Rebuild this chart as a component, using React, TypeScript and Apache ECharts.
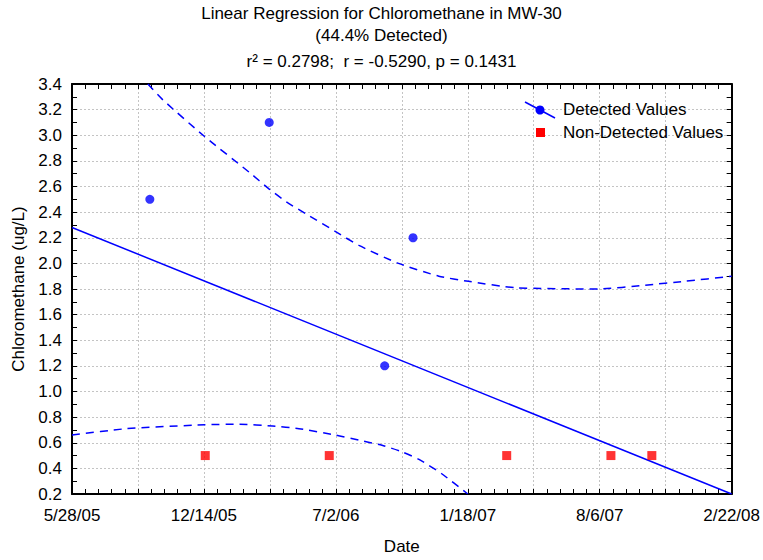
import React, { useEffect, useRef } from "react";
import * as echarts from "echarts";

// ---- data ----
const startDate = "2005-05-28";
const axisMaxDays = 1000;
const tickDays = 100;
const labelEveryDays = 200;

const detectedDates = ["2005-09-23", "2006-03-23", "2006-09-14", "2006-10-27"];
const detectedValues = [2.5, 3.1, 1.2, 2.2];

const nonDetectedDates = ["2005-12-16", "2006-06-22", "2007-03-18", "2007-08-23", "2007-10-24"];
const nonDetectedValues = [0.5, 0.5, 0.5, 0.5, 0.5];

const fitDates = ["2005-05-28", "2008-02-22"];
const fitValues = [2.28, 0.2];

// confidence band, x in days since startDate
const upperDays = [115, 137, 201, 269, 299, 325, 360, 399, 435, 495, 556, 601, 672, 798, 869, 929, 1000];
const upperValues = [3.4, 3.28, 2.99, 2.71, 2.58, 2.48, 2.37, 2.25, 2.14, 2.0, 1.9, 1.86, 1.81, 1.8, 1.83, 1.86, 1.9];
const lowerDays = [0, 83, 201, 254, 304, 344, 400, 435, 470, 500, 526, 560, 600];
const lowerValues = [0.66, 0.71, 0.74, 0.745, 0.73, 0.71, 0.66, 0.62, 0.58, 0.53, 0.47, 0.36, 0.2];

const yMin = 0.2;
const yMax = 3.4;
const yStep = 0.2;

const titleLines = ["Linear Regression for Chloromethane in MW-30", "(44.4% Detected)", "r\u00B2 = 0.2798;  r = -0.5290, p = 0.1431"];
const legendNames = ["Detected Values", "Non-Detected Values"];

// ---- helpers ----
const DAY = 86400000;
const parse = (s: string) => {
  const [y, m, d] = s.split("-").map(Number);
  return Date.UTC(y, m - 1, d);
};
const start = parse(startDate);
const toDays = (s: string) => Math.round((parse(s) - start) / DAY);
const fmtDay = (v: number) => {
  const d = new Date(start + v * DAY);
  return `${d.getUTCMonth() + 1}/${d.getUTCDate()}/${String(d.getUTCFullYear()).slice(2)}`;
};

const FONT = "Liberation Sans, Arial, sans-serif";
const BLUE = "#0000ff";
const RED = "#ff0000";

export default function App() {
  const ref = useRef<HTMLDivElement>(null);
  useEffect(() => {
    if (!ref.current) return;
    const chart = echarts.init(ref.current, undefined, { renderer: "svg" });
    const gridLine = { show: true, lineStyle: { color: "#c4c4c4", type: [2, 2] as any, width: 1 } };
    const axLine = { show: true, onZero: false, lineStyle: { color: "#000", width: 2 } };
    const tick = { show: true, inside: true, length: 5, lineStyle: { color: "#000", width: 1 } };
    const xBase = { type: "value" as const, min: 0, max: axisMaxDays, interval: tickDays };
    const yBase = { type: "value" as const, min: yMin, max: yMax, interval: yStep };

    chart.setOption({
      animation: false,
      textStyle: { fontFamily: FONT },
      grid: { left: 72, right: 30, top: 84, bottom: 61, containLabel: false },
      xAxis: [
        {
          ...xBase,
          position: "bottom",
          axisLine: axLine,
          axisTick: tick,
          minorTick: { show: true, splitNumber: 5, length: 5, lineStyle: { color: "#000" } },
          splitLine: gridLine,
          axisLabel: {
            color: "#000",
            fontSize: 17,
            fontFamily: FONT,
            margin: 13,
            formatter: (v: number) => (Math.round(v) % labelEveryDays === 0 ? fmtDay(v) : ""),
          },
          name: "Date",
          nameLocation: "middle",
          nameGap: 44,
          nameTextStyle: { color: "#000", fontSize: 17, fontFamily: FONT },
        },
        {
          ...xBase,
          position: "top",
          axisLine: axLine,
          axisTick: tick,
          minorTick: { show: true, splitNumber: 5, length: 5, lineStyle: { color: "#000" } },
          splitLine: { show: false },
          axisLabel: { show: false },
        },
      ],
      yAxis: [
        {
          ...yBase,
          position: "left",
          axisLine: axLine,
          axisTick: tick,
          minorTick: { show: true, splitNumber: 2, length: 5, lineStyle: { color: "#000" } },
          splitLine: gridLine,
          axisLabel: {
            color: "#000",
            fontSize: 17,
            fontFamily: FONT,
            margin: 10,
            formatter: (v: number) => v.toFixed(1),
          },
          name: "Chloromethane (ug/L)",
          nameLocation: "middle",
          nameGap: 43,
          nameTextStyle: { color: "#000", fontSize: 17, fontFamily: FONT },
        },
        {
          ...yBase,
          position: "right",
          axisLine: axLine,
          axisTick: tick,
          minorTick: { show: true, splitNumber: 2, length: 5, lineStyle: { color: "#000" } },
          splitLine: { show: false },
          axisLabel: { show: false },
        },
      ],
      series: [
        {
          type: "line",
          name: "fit",
          data: fitDates.map((d, i) => [toDays(d), fitValues[i]]),
          showSymbol: false,
          lineStyle: { color: BLUE, width: 1.5 },
          silent: true,
          z: 3,
        },
        {
          type: "line",
          name: "upper",
          data: upperDays.map((d, i) => [d, upperValues[i]]),
          showSymbol: false,
          smooth: 0.2,
          lineStyle: { color: BLUE, width: 1.5, type: [8, 6] as any },
          silent: true,
          z: 3,
        },
        {
          type: "line",
          name: "lower",
          data: lowerDays.map((d, i) => [d, lowerValues[i]]),
          showSymbol: false,
          smooth: 0.2,
          lineStyle: { color: BLUE, width: 1.5, type: [8, 6] as any },
          silent: true,
          z: 3,
        },
        {
          type: "scatter",
          name: legendNames[0],
          data: detectedDates.map((d, i) => [toDays(d), detectedValues[i]]),
          symbol: "circle",
          symbolSize: 9,
          itemStyle: { color: BLUE },
          z: 4,
        },
        {
          type: "scatter",
          name: legendNames[1],
          data: nonDetectedDates.map((d, i) => [toDays(d), nonDetectedValues[i]]),
          symbol: "rect",
          symbolSize: 9,
          itemStyle: { color: RED },
          z: 4,
        },
      ],
      graphic: [
        { type: "text", left: "center", top: 5, style: { text: titleLines[0], fontSize: 17, fontFamily: FONT, fill: "#000" } },
        { type: "text", left: "center", top: 27, style: { text: titleLines[1], fontSize: 17, fontFamily: FONT, fill: "#000" } },
        { type: "text", left: "center", top: 53, style: { text: titleLines[2], fontSize: 17, fontFamily: FONT, fill: "#000" } },
        { type: "line", shape: { x1: 525, y1: 102, x2: 555, y2: 118 }, style: { stroke: BLUE, lineWidth: 1.5 }, z: 10 },
        { type: "circle", shape: { cx: 540, cy: 110, r: 4.5 }, style: { fill: BLUE }, z: 10 },
        { type: "text", x: 563, y: 109, style: { text: legendNames[0], fontSize: 17, fontFamily: FONT, fill: "#000", verticalAlign: "middle" }, z: 10 },
        { type: "rect", shape: { x: 536, y: 128, width: 9, height: 9 }, style: { fill: RED }, z: 10 },
        { type: "text", x: 563, y: 132, style: { text: legendNames[1], fontSize: 17, fontFamily: FONT, fill: "#000", verticalAlign: "middle" }, z: 10 },
      ],
    });
    return () => chart.dispose();
  }, []);
  return <div ref={ref} style={{ position: "absolute", left: 0, top: 0, width: 763, height: 560 }} />;
}
